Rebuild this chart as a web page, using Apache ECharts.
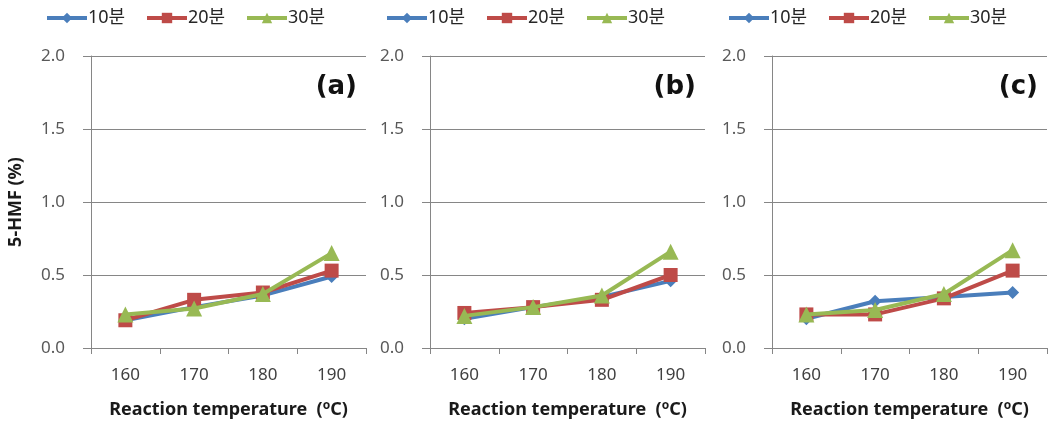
<!DOCTYPE html>
<html><head><meta charset="utf-8">
<script src="https://cdn.jsdelivr.net/npm/echarts@6/dist/echarts.min.js"></script>
<style>html,body{margin:0;padding:0;background:#fff}#c{width:1055px;height:443px}</style>
</head><body><div id="c"></div>
<script>
const categories = ['160', '170', '180', '190'];
const seriesNames = ['10분', '20분', '30분'];
const panelLabels = ['(a)', '(b)', '(c)'];
const yTicks = [0, 0.5, 1.0, 1.5, 2.0];
const a10 = [0.19, 0.28, 0.36, 0.49];
const a20 = [0.19, 0.33, 0.38, 0.53];
const a30 = [0.23, 0.27, 0.37, 0.65];
const b10 = [0.20, 0.28, 0.35, 0.46];
const b20 = [0.24, 0.28, 0.33, 0.50];
const b30 = [0.22, 0.28, 0.36, 0.66];
const c10 = [0.20, 0.32, 0.35, 0.38];
const c20 = [0.23, 0.23, 0.34, 0.53];
const c30 = [0.23, 0.26, 0.37, 0.67];
const panels = [[a10, a20, a30], [b10, b20, b30], [c10, c20, c30]];

const colors = ['#4A7EBB', '#BE4B48', '#98B954'];
const symbols = ['diamond', 'rect', 'triangle'];
const symbolSizes = [13, 14, 16];
const gridLefts = [91, 430, 772];
const gridWidth = 275;
const gridTop = 56, gridHeight = 292;
const legendLefts = [40, 380, 722];
const fontMain = '"Noto Sans", "Noto Sans CJK KR", sans-serif';
const axisGray = '#868686';

const grids = [], xAxes = [], yAxes = [], series = [], legends = [], graphics = [];
panels.forEach((p, i) => {
  grids.push({left: gridLefts[i], top: gridTop, width: gridWidth, height: gridHeight, containLabel: false});
  xAxes.push({
    type: 'category', gridIndex: i, data: categories, boundaryGap: true,
    axisLine: {lineStyle: {color: axisGray, width: 1}},
    axisTick: {show: true, length: 6, inside: false, lineStyle: {color: axisGray}},
    axisLabel: {color: '#404040', fontSize: 17, fontFamily: fontMain, margin: 19},
    name: 'Reaction temperature  (' + '{sup|o}' + 'C)',
    nameLocation: 'middle', nameGap: 52,
    nameTextStyle: {color: '#1a1a1a', fontSize: 18, fontWeight: 'bold', fontFamily: fontMain,
      rich: {sup: {fontSize: 12, fontWeight: 'bold', color: '#1a1a1a', verticalAlign: 'top', padding: [0, 0, 8, 0], fontFamily: fontMain}}}
  });
  yAxes.push({
    type: 'value', gridIndex: i, min: 0, max: 2, interval: 0.5,
    axisLine: {show: true, lineStyle: {color: axisGray, width: 1}},
    axisTick: {show: true, length: 8, inside: false, lineStyle: {color: axisGray}},
    splitLine: {show: true, lineStyle: {color: axisGray, width: 1}},
    axisLabel: {color: '#595959', fontSize: 17, fontFamily: fontMain, margin: 26,
      formatter: v => v.toFixed(1)},
    name: i === 0 ? '5-HMF (%)' : '',
    nameLocation: 'middle', nameGap: 66, nameRotate: 90,
    nameTextStyle: {color: '#1a1a1a', fontSize: 18, fontWeight: 'bold', fontFamily: fontMain}
  });
  p.forEach((arr, s) => {
    series.push({
      type: 'line', name: seriesNames[s], xAxisIndex: i, yAxisIndex: i, data: arr,
      symbol: symbols[s], symbolSize: symbolSizes[s], showSymbol: true,
      lineStyle: {color: colors[s], width: 4},
      itemStyle: {color: colors[s]},
      z: 2 + s, animation: false
    });
  });
  seriesNames.forEach((n, s) => {
    legends.push({
      data: [n], left: legendLefts[i] + s * 100, top: 4,
      itemWidth: 40, itemHeight: 13, itemGap: 0,
      lineStyle: {width: 4, color: colors[s]},
      textStyle: {fontSize: 18, color: '#262626', fontFamily: fontMain, padding: [0, 0, 0, -4]},
      selectedMode: false
    });
  });
  graphics.push({
    type: 'text', right: 1055 - (gridLefts[i] + gridWidth) + 9, top: 74,
    style: {text: panelLabels[i], fontSize: 26, fontWeight: 'bold', fill: '#111', fontFamily: '"DejaVu Sans", sans-serif'}
  });
});

const chart = echarts.init(document.getElementById('c'), null, {renderer: 'canvas'});
chart.setOption({
  backgroundColor: '#fff',
  animation: false,
  grid: grids, xAxis: xAxes, yAxis: yAxes, series: series, legend: legends, graphic: graphics
});
</script></body></html>
